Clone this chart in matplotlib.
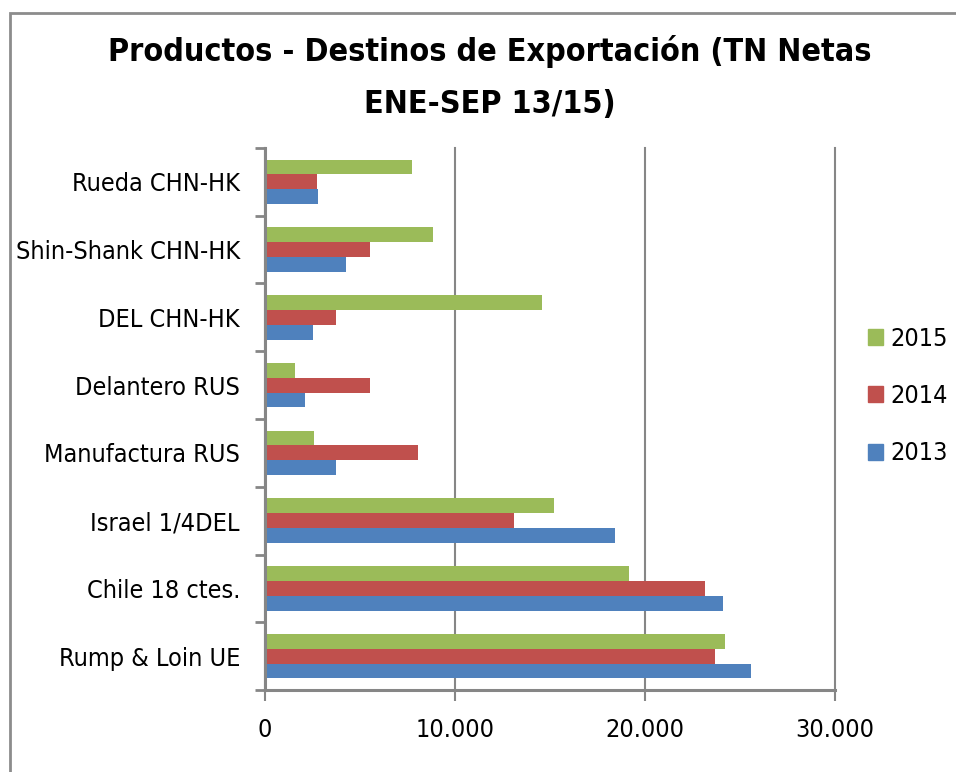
import matplotlib
matplotlib.use("Agg")
import matplotlib.pyplot as plt
import numpy as np
from matplotlib.patches import Rectangle, Patch
from matplotlib import font_manager as fm
from matplotlib.font_manager import FontProperties

categories = ["Rump & Loin UE", "Chile 18 ctes.", "Israel 1/4DEL", "Manufactura RUS",
              "Delantero RUS", "DEL CHN-HK", "Shin-Shank CHN-HK", "Rueda CHN-HK"]
v2013 = [25580, 24110, 18420, 3740, 2120, 2530, 4260, 2800]
v2014 = [23710, 23160, 13080, 8030, 5540, 3740, 5530, 2760]
v2015 = [24230, 19160, 15190, 2580, 1560, 14580, 8820, 7750]
series_names = ["2013", "2014", "2015"]
colors = ["#4F81BD", "#C0504D", "#9BBB59"]
xtick_values = [0, 10000, 20000, 30000]
xtick_labels = ["0", "10.000", "20.000", "30.000"]
title_lines = ["Productos - Destinos de Exportación (TN Netas", "ENE-SEP 13/15)"]


def pick_font(bold):
    prefs = ["liberationsansnarrow", "dejavusanscondensed", "notosans-condensed",
             "robotocondensed", "opensanscondensed", "condensed", "narrow"]
    best = None
    for f in fm.fontManager.ttflist:
        fn = f.fname.lower().replace("_", "").replace(" ", "")
        base = fn.rsplit("/", 1)[-1]
        if "italic" in base or "oblique" in base:
            continue
        if "semicondensed" in base or "extracondensed" in base:
            continue
        isbold = ("bold" in base) and ("semibold" not in base) and ("extrabold" not in base)
        if bold != isbold:
            continue
        if not bold and any(w in base for w in ["light", "medium", "thin", "black", "semibold", "extrabold"]):
            continue
        for rank, p in enumerate(prefs):
            if p in base:
                if best is None or rank < best[0]:
                    best = (rank, f.fname)
                break
    if best is None:
        return FontProperties(family=["Liberation Sans", "DejaVu Sans"],
                              weight="bold" if bold else "normal")
    return FontProperties(fname=best[1])


fp_reg = pick_font(False)
fp_bold = pick_font(True)

fig = plt.figure(figsize=(9.56, 7.72), dpi=100)
renderer = fig.canvas.get_renderer()


def fit_size(fp, text, target_px, base=20.0):
    p = fp.copy()
    p.set_size(base)
    t = fig.text(0, 0, text, fontproperties=p)
    w = t.get_window_extent(renderer).width
    t.remove()
    return base * target_px / w


lab_size = fit_size(fp_reg, "Rump & Loin UE", 182)
title_size = fit_size(fp_bold, title_lines[0], 765)
fp_lab = fp_reg.copy()
fp_lab.set_size(lab_size)
fp_title = fp_bold.copy()
fp_title.set_size(title_size)

ax = fig.add_axes([265/956, 1-690/772, (835-265)/956, (690-148)/772])

y = np.arange(len(categories))
h = 0.22
for i, (vals, c, name) in enumerate(zip([v2013, v2014, v2015], colors, series_names)):
    ax.barh(y + (i-1)*h, vals, height=h, color=c, label=name, zorder=3)

ax.set_xlim(0, 30000)
ax.set_ylim(-0.5, len(categories)-0.5)
ax.set_xticks(xtick_values)
ax.set_xticklabels(xtick_labels, fontproperties=fp_lab)
ax.set_yticks(y)
ax.set_yticklabels(categories, fontproperties=fp_lab)
ax.set_yticks(np.arange(-0.5, len(categories)), minor=True)
ax.tick_params(axis="y", which="major", length=0, pad=18)
ax.tick_params(axis="y", which="minor", length=7, width=2, color="#868686")
ax.tick_params(axis="x", which="major", length=8, width=1.5, color="#868686", pad=12)
ax.grid(axis="x", color="#868686", linewidth=1.5, zorder=1)
for gl in ax.get_xgridlines():
    gl.set_clip_on(False)
for s in ["top", "right"]:
    ax.spines[s].set_visible(False)
for s in ["left", "bottom"]:
    ax.spines[s].set_color("#868686")
    ax.spines[s].set_linewidth(2.2)
    ax.spines[s].set_zorder(4)

fig.text(490/956, 1-52/772, title_lines[0], ha="center", va="center", fontproperties=fp_title)
fig.text(490/956, 1-104/772, title_lines[1], ha="center", va="center", fontproperties=fp_title)

handles = [Patch(color=colors[i]) for i in [2, 1, 0]]
labels = [series_names[i] for i in [2, 1, 0]]
fig.legend(handles, labels, loc="center left", bbox_to_anchor=(855/956, 1-396/772),
           frameon=False, prop=fp_lab, handlelength=0.6, handleheight=0.6,
           handletextpad=0.3, labelspacing=1.33, borderpad=0)

fig.patches.append(Rectangle((10/956, -0.1), 1.2, 1-13/772+0.1, transform=fig.transFigure,
                             fill=False, edgecolor="#8c8c8c", linewidth=2))

fig.savefig("out.png", dpi=100)
